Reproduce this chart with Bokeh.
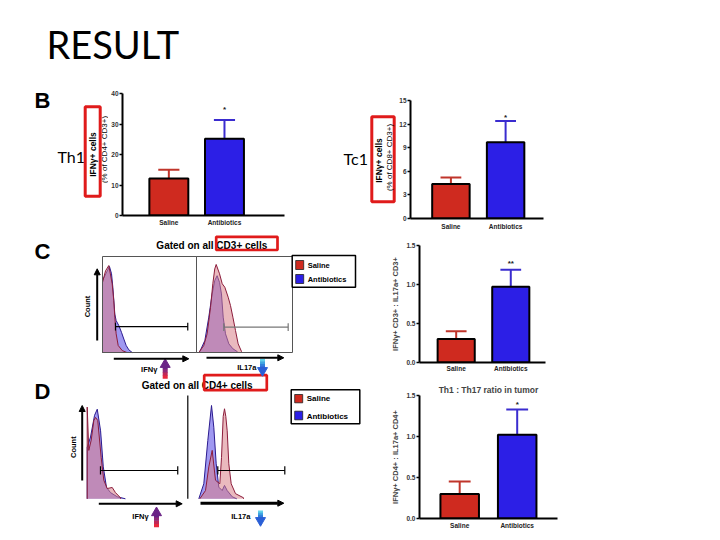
import math
from bokeh.plotting import figure
from bokeh.layouts import row, column
from bokeh.models import Range1d, FixedTicker, PrintfTickFormatter, Arrow, NormalHead
from bokeh.core.properties import value
from bokeh.embed import file_html
from bokeh.resources import INLINE

# ---------------- data ----------------
GROUPS = ["Saline", "Antibiotics"]

TH1_MEAN = [12.1, 25.2]      # IFNg+ % of CD4+CD3+
TH1_UPPER = [15.0, 31.3]
TH1_SIG = "*"
TH1_TICKS = [0, 10, 20, 30, 40]

TC1_MEAN = [4.4, 9.7]        # IFNg+ % of CD8+CD3+
TC1_UPPER = [5.2, 12.4]
TC1_SIG = "*"
TC1_TICKS = [0, 3, 6, 9, 12, 15]

C_RATIO_MEAN = [0.30, 0.97]  # IFNg+CD3+ : IL17a+CD3+
C_RATIO_UPPER = [0.40, 1.19]
C_SIG = "**"

D_RATIO_MEAN = [0.30, 1.02]  # IFNg+CD4+ : IL17a+CD4+
D_RATIO_UPPER = [0.45, 1.33]
D_SIG = "*"
RATIO_TICKS = [0.0, 0.5, 1.0, 1.5]

# flow histograms (x: fraction of log axis, y: fraction of max count)
C_IFNG_X_SAL = [0, .032, .067, .103, .12, .131, .145, .167, .21, .26]
C_IFNG_Y_SAL = [.73, .85, .906, .716, .54, .368, .195, .073, .02, 0]
C_IFNG_X_ANT = [0, .035, .074, .096, .11, .131, .145, .174, .202, .227, .252, .28, .316]
C_IFNG_Y_ANT = [.75, .82, .896, .82, .68, .40, .333, .28, .21, .14, .073, .028, 0]
C_IL17_X_SAL = [.024, .076, .111, .146, .17, .19, .205, .24, .268, .295, .33, .354, .379, .406, .434, .469]
C_IL17_Y_SAL = [0, .073, .195, .47, .716, .87, .917, .82, .716, .68, .576, .49, .368, .23, .09, .01]
C_IL17_X_ANT = [.03, .087, .128, .163, .19, .215, .24, .26, .278, .302, .337, .38, .424]
C_IL17_Y_ANT = [0, .125, .368, .61, .75, .80, .73, .61, .368, .195, .09, .038, .01]
D_IFNG_X_SAL = [0, .016, .04, .066, .083, .105, .139, .165, .199, .249, .281, .331]
D_IFNG_Y_SAL = [.89, .47, .57, .76, .79, .76, .40, .18, .10, .11, .06, .01]
D_IFNG_X_ANT = [0, .033, .073, .10, .133, .16, .192, .232, .298, .38]
D_IFNG_Y_ANT = [.5, .6, .81, .87, .66, .31, .11, .06, .02, 0]
D_IL17_X_SAL = [.12, .177, .21, .244, .277, .32, .337, .354, .367, .38, .394, .41, .434, .477, .557]
D_IL17_Y_SAL = [0, .08, .31, .47, .18, .146, .40, .80, .874, .80, .66, .34, .146, .05, .01]
D_IL17_X_ANT = [.11, .16, .20, .237, .26, .284, .31, .344, .367, .394, .444, .49]
D_IL17_Y_ANT = [0, .146, .566, .906, .695, .34, .113, .08, .13, .08, .02, 0]

# gates (x from, x to, y level) in histogram units
GATE_C_IFNG = [0.138, 0.907, 0.27]
GATE_C_IL17 = [0.284, 0.955, 0.264]
GATE_D_IFNG = [0.132, 0.90, 0.275]
GATE_D_IL17 = [0.30, 0.97, 0.275]

# ---------------- styles ----------------
FONT = "Liberation Sans"
SAL_BAR = "#cf2a1f"
ANT_BAR = "#2c1fe6"
SAL_ERR = "#c0352b"
ANT_ERR = "#3a2ccf"
RED_BOX = "#e01b1b"
SAL_HIST, SAL_HIST_LINE = "#d98088", "#8c1d3c"
ANT_HIST, ANT_HIST_LINE = "#5044e6", "#2b1b8f"


def canvas(x0, x1, ytop, ybot):
    """A decoration figure whose data coordinates are page pixels (y downwards)."""
    p = figure(width=x1 - x0, height=ybot - ytop, x_range=Range1d(x0, x1), y_range=Range1d(ybot, ytop),
               output_backend="svg", toolbar_location=None,
               x_axis_location=None, y_axis_location=None, title=None,
               min_border_left=0, min_border_right=0, min_border_top=0, min_border_bottom=0,
               frame_align=False)
    p.outline_line_color = None
    p.xgrid.visible = False
    p.ygrid.visible = False
    return p


def txt(p, x, y, s, size, bold=True, align="left", baseline="middle", angle=0.0,
        color="black", font=FONT):
    p.text(x=[x], y=[y], text=[s], text_font=value(font), text_font_size=f"{size}px",
           text_font_style="bold" if bold else "normal", text_align=align,
           text_baseline=baseline, angle=angle, text_color=color)


def box(p, x0, x1, y0, y1, color, width, fill=None):
    p.quad(left=[x0], right=[x1], top=[y0], bottom=[y1], fill_color=fill,
           line_color=color, line_width=width)


def arrow(p, x0, y0, x1, y1, width=2, head=6):
    p.add_layout(Arrow(end=NormalHead(size=head, fill_color="black", line_color="black", line_width=1),
                       x_start=x0, y_start=y0, x_end=x1, y_end=y1,
                       line_width=width, line_color="black"))


def grad_arrow(p, x, y_tail, y_tip, cols, width=5, head=10):
    d = 1 if y_tip > y_tail else -1
    shaft_end = y_tip - d * head * 0.55
    n = len(cols)
    step = (shaft_end - y_tail) / n
    for i, c in enumerate(cols):
        p.segment(x0=[x], y0=[y_tail + i * step], x1=[x], y1=[y_tail + (i + 1) * step + d * 0.5],
                  line_color=c, line_width=width)
    marker = "inverted_triangle" if d > 0 else "triangle"
    p.scatter(x=[x], y=[y_tip - d * head * 0.4], marker=marker, size=head,
              fill_color=cols[-1], line_color=cols[-1])


# ---------------- title ----------------
title_fig = canvas(0, 720, 0, 85)
txt(title_fig, 46, 43.5, "RESULT", 38, bold=False, font="Lato")


# ---------------- bar charts ----------------
def bar_chart(w, h, borders, xr, bar_w, y_hi, ticks, fmt, means, uppers, sig, sig_gap,
              x_standoff, ylabel=None, title=None):
    l, r, t, b = borders
    p = figure(width=w, height=h, x_range=Range1d(*xr), y_range=Range1d(0, y_hi),
               output_backend="svg", toolbar_location=None, title=title,
               min_border_left=l, min_border_right=r, min_border_top=t, min_border_bottom=b,
               frame_align=False)
    p.outline_line_color = None
    p.xgrid.visible = False
    p.ygrid.visible = False
    xs = [i + 1 for i in range(len(GROUPS))]

    xa = p.xaxis[0]
    xa.ticker = FixedTicker(ticks=xs)
    xa.major_label_overrides = {x: g for x, g in zip(xs, GROUPS)}
    xa.major_tick_out = 0
    xa.major_tick_in = 0
    xa.minor_tick_line_color = None
    xa.axis_line_width = 2
    xa.major_label_text_font = FONT
    xa.major_label_text_font_style = "bold"
    xa.major_label_text_font_size = "6.5px"
    xa.major_label_text_color = "#222222"
    xa.major_label_standoff = x_standoff

    ya = p.yaxis[0]
    ya.ticker = FixedTicker(ticks=ticks)
    ya.formatter = PrintfTickFormatter(format=fmt)
    ya.minor_tick_line_color = None
    ya.major_tick_out = 3
    ya.major_tick_in = 0
    ya.major_tick_line_width = 1.5
    ya.axis_line_width = 2
    ya.major_label_text_font = FONT
    ya.major_label_text_font_style = "bold"
    ya.major_label_text_font_size = "6.5px"
    ya.major_label_text_color = "#333333"
    ya.major_label_standoff = 1
    if ylabel:
        ya.axis_label = ylabel
        ya.axis_label_text_font = FONT
        ya.axis_label_text_font_style = "bold"
        ya.axis_label_text_font_size = "7.5px"
        ya.axis_label_standoff = 3
    if title:
        p.title.text_font = FONT
        p.title.text_font_style = "bold"
        p.title.text_font_size = "8.5px"
        p.title.align = "center"
        p.title.standoff = 2

    cw = 0.19
    src = dict(x=xs, mean=means, upper=uppers,
               cl=[x - cw for x in xs], cr=[x + cw for x in xs],
               fill=[SAL_BAR, ANT_BAR], err=[SAL_ERR, ANT_ERR])
    p.segment(x0="x", y0="mean", x1="x", y1="upper", line_color="err", line_width=2, source=src)
    p.segment(x0="cl", y0="upper", x1="cr", y1="upper", line_color="err", line_width=2, source=src)
    p.vbar(x="x", top="mean", width=bar_w, fill_color="fill", line_color="black",
           line_width=2, source=src)
    p.text(x=[xs[-1]], y=[uppers[-1] + sig_gap], text=[sig], text_font=value(FONT),
           text_font_style="bold", text_font_size="8px", text_align="center",
           text_baseline="middle", text_color="#222222")
    return p


th1 = bar_chart(192, 147, (10, 16, 8, 17), (0.167, 3.079), 0.70, 40, TH1_TICKS, "%d",
                TH1_MEAN, TH1_UPPER, TH1_SIG, 3.4, 3)
tc1 = bar_chart(324, 147, (12, 177, 15, 13), (0.261, 2.693), 0.685, 15, TC1_TICKS, "%d",
                TC1_MEAN, TC1_UPPER, TC1_SIG, 0.4, 4)
cbar = bar_chart(340, 148, (39, 175, 13, 18), (0.328, 2.636), 0.68, 1.5, RATIO_TICKS, "%.1f",
                 C_RATIO_MEAN, C_RATIO_UPPER, C_SIG, 0.075, 2,
                 ylabel="IFNγ+ CD3+ : IL17a+ CD3+")
dbar = bar_chart(340, 160, (39, 163, 15, 22), (0.301, 2.701), 0.67, 1.5, RATIO_TICKS, "%.1f",
                 D_RATIO_MEAN, D_RATIO_UPPER, D_SIG, 0.06, 3,
                 ylabel="IFNγ+ CD4+ : IL17a+ CD4+", title="Th1 : Th17 ratio in tumor")

# ---------------- panel B decorations (page pixel coordinates) ----------------
decoB = canvas(0, 108, 85, 232)
txt(decoB, 34, 100, "B", 22)
txt(decoB, 57, 155.5, "Th1", 16, bold=False, font="Lato")
box(decoB, 84.7, 99.7, 106.3, 195.7, RED_BOX, 3)
txt(decoB, 92.7, 154, "IFNγ+ cells", 8.5, align="center", angle=math.pi / 2)
txt(decoB, 104, 149, "(% of CD4+ CD3+)", 8, bold=False, align="center", angle=math.pi / 2)

decoT = canvas(300, 396, 85, 232)
txt(decoT, 343, 157.5, "Tc1", 16, bold=False, font="Lato")
box(decoT, 371.3, 393.7, 116.3, 201.3, RED_BOX, 3)
txt(decoT, 378.3, 160, "IFNγ+ cells", 8.5, align="center", angle=math.pi / 2)
txt(decoT, 389.3, 157, "(% of CD8+ CD3+)", 8, bold=False, align="center", angle=math.pi / 2)

# ---------------- panels C / D histograms (page pixel coordinates) ----------------
HX0, HX1, HY0, HY1 = 0, 380, 232, 540
hist = canvas(HX0, HX1, HY0, HY1)


def panel_ranges(name, x0, x1, ytop, ybot):
    sx = x1 - x0
    sy = ybot - ytop
    hist.extra_x_ranges[name + "_x"] = Range1d((HX0 - x0) / sx, (HX1 - x0) / sx)
    hist.extra_y_ranges[name + "_y"] = Range1d((ybot - HY1) / sy, (ybot - HY0) / sy)
    return name + "_x", name + "_y"


def add_hist(rng, xs_, ys_, fill, line, alpha):
    rx, ry = rng
    px = [xs_[0]] + list(xs_) + [xs_[-1]]
    py = [0] + list(ys_) + [0]
    hist.patch(px, py, fill_color=fill, fill_alpha=alpha, line_color=None,
               x_range_name=rx, y_range_name=ry)
    hist.line(px, py, line_color=line, line_width=1, x_range_name=rx, y_range_name=ry)


def add_gate(rng, gate, color="black"):
    rx, ry = rng
    x0, x1, y = gate
    hist.segment(x0=[x0], y0=[y], x1=[x1], y1=[y], line_color=color, line_width=1.2,
                 x_range_name=rx, y_range_name=ry)
    hist.segment(x0=[x0, x1], y0=[y - 0.04, y - 0.04], x1=[x0, x1], y1=[y + 0.04, y + 0.04],
                 line_color=color, line_width=1.2, x_range_name=rx, y_range_name=ry)


CL = panel_ranges("cl", 102, 196, 256, 352)
CR = panel_ranges("cr", 196, 292, 256, 352)
DL = panel_ranges("dl", 86.7, 187.3, 395.3, 498.3)
DR = panel_ranges("dr", 187.3, 287.3, 395.3, 498.3)

for rng, xs_s, ys_s, xs_a, ys_a in [
    (CL, C_IFNG_X_SAL, C_IFNG_Y_SAL, C_IFNG_X_ANT, C_IFNG_Y_ANT),
    (CR, C_IL17_X_SAL, C_IL17_Y_SAL, C_IL17_X_ANT, C_IL17_Y_ANT),
    (DL, D_IFNG_X_SAL, D_IFNG_Y_SAL, D_IFNG_X_ANT, D_IFNG_Y_ANT),
    (DR, D_IL17_X_SAL, D_IL17_Y_SAL, D_IL17_X_ANT, D_IL17_Y_ANT),
]:
    add_hist(rng, xs_a, ys_a, ANT_HIST, ANT_HIST_LINE, 0.55)
    add_hist(rng, xs_s, ys_s, SAL_HIST, SAL_HIST_LINE, 0.55)

add_gate(CL, GATE_C_IFNG)
add_gate(CR, GATE_C_IL17, "#777777")
add_gate(DL, GATE_D_IFNG)
add_gate(DR, GATE_D_IL17)

# C frame boxes, D divider
box(hist, 102, 196, 256, 352, "#555555", 1)
box(hist, 196, 292, 256, 352, "#555555", 1)
hist.segment(x0=[187.3], y0=[395], x1=[187.3], y1=[498.3], line_color="black", line_width=1.2)

# letters and titles
txt(hist, 34, 250.7, "C", 22)
txt(hist, 34, 390.5, "D", 22)
txt(hist, 211.3, 245, "Gated on all CD3+ cells", 10, align="center")
box(hist, 215.7, 277, 236.3, 249.5, RED_BOX, 2.7)
txt(hist, 196.7, 385, "Gated on all CD4+ cells", 10, align="center")
box(hist, 203.7, 266.3, 374.7, 389.7, RED_BOX, 2.7)

# legends
for (bx0, bx1, by0, by1, sq, ty, fs) in [
    (291.7, 355, 255, 286.7, [(260, 269), (274, 283)], [264.7, 279], 7.5),
    (290.7, 359.3, 389.3, 423.3, [(394, 402.3), (410.7, 419.3)], [398.3, 415.7], 8),
]:
    box(hist, bx0, bx1, by0, by1, "black", 1.5, fill="white")
    for (s0, s1), col in zip(sq, [SAL_BAR, ANT_BAR]):
        box(hist, bx0 + 3.5, bx0 + 11.5, s0, s1, "#222222", 0.8, fill=col)
    for yy, g in zip(ty, GROUPS):
        txt(hist, bx0 + 15.5, yy, g, fs)

# count axes and marker arrows
txt(hist, 87, 306, "Count", 7.5, align="center", angle=math.pi / 2)
arrow(hist, 96.7, 340, 96.7, 268.3)
txt(hist, 73.3, 446.7, "Count", 7.5, align="center", angle=math.pi / 2)
arrow(hist, 81.7, 480, 81.7, 405)

arrow(hist, 113.3, 358.3, 188.3, 358.3)
arrow(hist, 206, 357.3, 283.3, 357.3)
arrow(hist, 98.3, 503.3, 181.7, 503.3)
arrow(hist, 200, 502.7, 283.3, 502.7, width=3)

UP_COLS = ["#e8283c", "#c02858", "#8e2a78", "#6a2386"]
DOWN_COLS = ["#62d2ea", "#42a8e2", "#3282dc", "#2a5fd6"]
txt(hist, 148.7, 369.3, "IFNγ", 7.5, align="center")
grad_arrow(hist, 164.7, 378.3, 360, UP_COLS)
txt(hist, 246.3, 367.3, "IL17a", 7.5, align="center")
grad_arrow(hist, 262, 358.3, 374, DOWN_COLS)
txt(hist, 140, 515.7, "IFNγ", 7.5, align="center")
grad_arrow(hist, 156, 526.7, 508.3, UP_COLS)
txt(hist, 240.3, 515.7, "IL17a", 7.5, align="center")
grad_arrow(hist, 260, 510, 524, DOWN_COLS)

# ---------------- layout ----------------
layout = column(
    title_fig,
    row(decoB, th1, decoT, tc1),
    row(hist, column(cbar, dbar)),
)

open("out.html", "w").write(file_html(layout, INLINE))
